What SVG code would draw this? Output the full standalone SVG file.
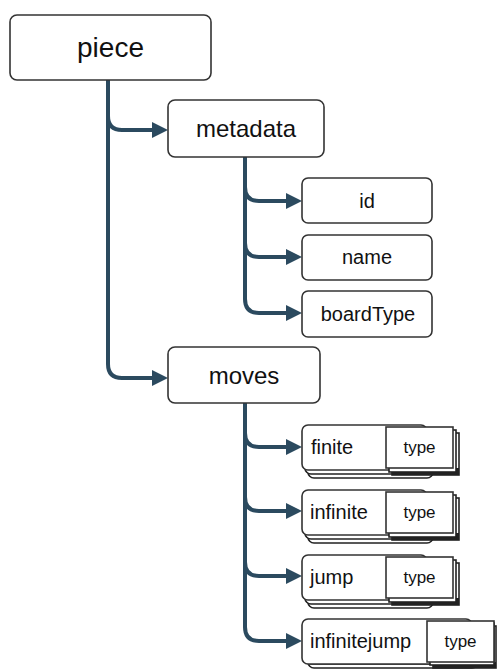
<svg xmlns="http://www.w3.org/2000/svg" width="497" height="670" viewBox="0 0 497 670">
<defs>
<style>
.box{fill:#fff;stroke:#333;stroke-width:1.6}
.bk{fill:#fff;stroke:#222;stroke-width:1.6}
.sh{fill:#fff;stroke:#222;stroke-width:1.6}
.t{font-family:"Liberation Sans",Arial,sans-serif;fill:#111;text-anchor:middle}
.tl{font-family:"Liberation Sans",Arial,sans-serif;fill:#111}
.c{fill:none;stroke:#2b4a5f;stroke-width:4}
</style>
<marker id="ah" markerUnits="userSpaceOnUse" viewBox="0 0 16 16" refX="0" refY="8" markerWidth="16" markerHeight="16" orient="auto">
<path d="M0,0 L16,8 L0,16 z" fill="#2b4a5f"/>
</marker>
</defs>
<g id="connectors">
<path class="c" d="M108,80 V116 Q108,130 122,130 H152" marker-end="url(#ah)"/>
<path class="c" d="M108,116 V364 Q108,378 122,378 H152" marker-end="url(#ah)"/>
<path class="c" d="M245,157 V187 Q245,201 259,201 H286" marker-end="url(#ah)"/>
<path class="c" d="M245,187 V243 Q245,257 259,257 H286" marker-end="url(#ah)"/>
<path class="c" d="M245,243 V299 Q245,313 259,313 H286" marker-end="url(#ah)"/>
<path class="c" d="M245,403 V433 Q245,447 259,447 H286" marker-end="url(#ah)"/>
<path class="c" d="M245,433 V497 Q245,511 259,511 H286" marker-end="url(#ah)"/>
<path class="c" d="M245,497 V562 Q245,576 259,576 H286" marker-end="url(#ah)"/>
<path class="c" d="M245,562 V627 Q245,641 259,641 H286" marker-end="url(#ah)"/>
</g>
<g id="piece">
<rect class="box" x="10" y="15" width="201" height="65" rx="7"/>
<text class="t" x="110.5" y="57" font-size="28">piece</text>
</g>
<g id="metadata">
<rect class="box" x="168" y="100" width="156" height="57" rx="7"/>
<text class="t" x="246" y="137" font-size="24">metadata</text>
</g>
<g id="id">
<rect class="box" x="302" y="178" width="130" height="45" rx="6"/>
<text class="t" x="367" y="208" font-size="20">id</text>
</g>
<g id="name">
<rect class="box" x="302" y="235" width="130" height="45" rx="6"/>
<text class="t" x="367" y="264" font-size="20">name</text>
</g>
<g id="boardType">
<rect class="box" x="302" y="291" width="130" height="46" rx="6"/>
<text class="t" x="368" y="321" font-size="20">boardType</text>
</g>
<g id="moves">
<rect class="box" x="168" y="347" width="152" height="56" rx="7"/>
<text class="t" x="244" y="384" font-size="24">moves</text>
</g>
<g id="finite">
<rect class="bk" x="308" y="433" width="125" height="45" rx="6"/>
<rect class="bk" x="305" y="429" width="125" height="45" rx="6"/>
<rect class="box" x="302" y="425" width="125" height="45" rx="6"/>
<text class="tl" x="311" y="454" font-size="20">finite</text>
<rect class="sh" x="392" y="433" width="67" height="42"/>
<rect x="392" y="468" width="67" height="7" fill="#222"/>
<rect class="sh" x="389" y="430" width="67" height="42"/>
<rect class="box" x="386" y="427" width="67" height="41"/>
<text class="t" x="419.5" y="453" font-size="17">type</text>
</g>
<g id="infinite">
<rect class="bk" x="308" y="498" width="125" height="45" rx="6"/>
<rect class="bk" x="305" y="494" width="125" height="45" rx="6"/>
<rect class="box" x="302" y="490" width="125" height="45" rx="6"/>
<text class="tl" x="310" y="519" font-size="20">infinite</text>
<rect class="sh" x="392" y="498" width="67" height="42"/>
<rect x="392" y="533" width="67" height="7" fill="#222"/>
<rect class="sh" x="389" y="495" width="67" height="42"/>
<rect class="box" x="386" y="492" width="67" height="41"/>
<text class="t" x="419.5" y="518" font-size="17">type</text>
</g>
<g id="jump">
<rect class="bk" x="308" y="563" width="125" height="45" rx="6"/>
<rect class="bk" x="305" y="559" width="125" height="45" rx="6"/>
<rect class="box" x="302" y="555" width="125" height="45" rx="6"/>
<text class="tl" x="310" y="584" font-size="20">jump</text>
<rect class="sh" x="392" y="563" width="67" height="42"/>
<rect x="392" y="598" width="67" height="7" fill="#222"/>
<rect class="sh" x="389" y="560" width="67" height="42"/>
<rect class="box" x="386" y="557" width="67" height="41"/>
<text class="t" x="419.5" y="583" font-size="17">type</text>
</g>
<g id="infinitejump">
<rect class="bk" x="308" y="627" width="170" height="41" rx="6"/>
<rect class="bk" x="305" y="623" width="170" height="41" rx="6"/>
<rect class="box" x="302" y="619" width="170" height="45" rx="6"/>
<text class="tl" x="310" y="648" font-size="20">infinitejump</text>
<rect class="sh" x="433" y="626" width="63" height="42"/>
<rect x="433" y="662" width="63" height="6" fill="#222"/>
<rect class="sh" x="430" y="623" width="64" height="42"/>
<rect class="box" x="427" y="621" width="67" height="41"/>
<text class="t" x="460.5" y="647" font-size="17">type</text>
</g>
</svg>
